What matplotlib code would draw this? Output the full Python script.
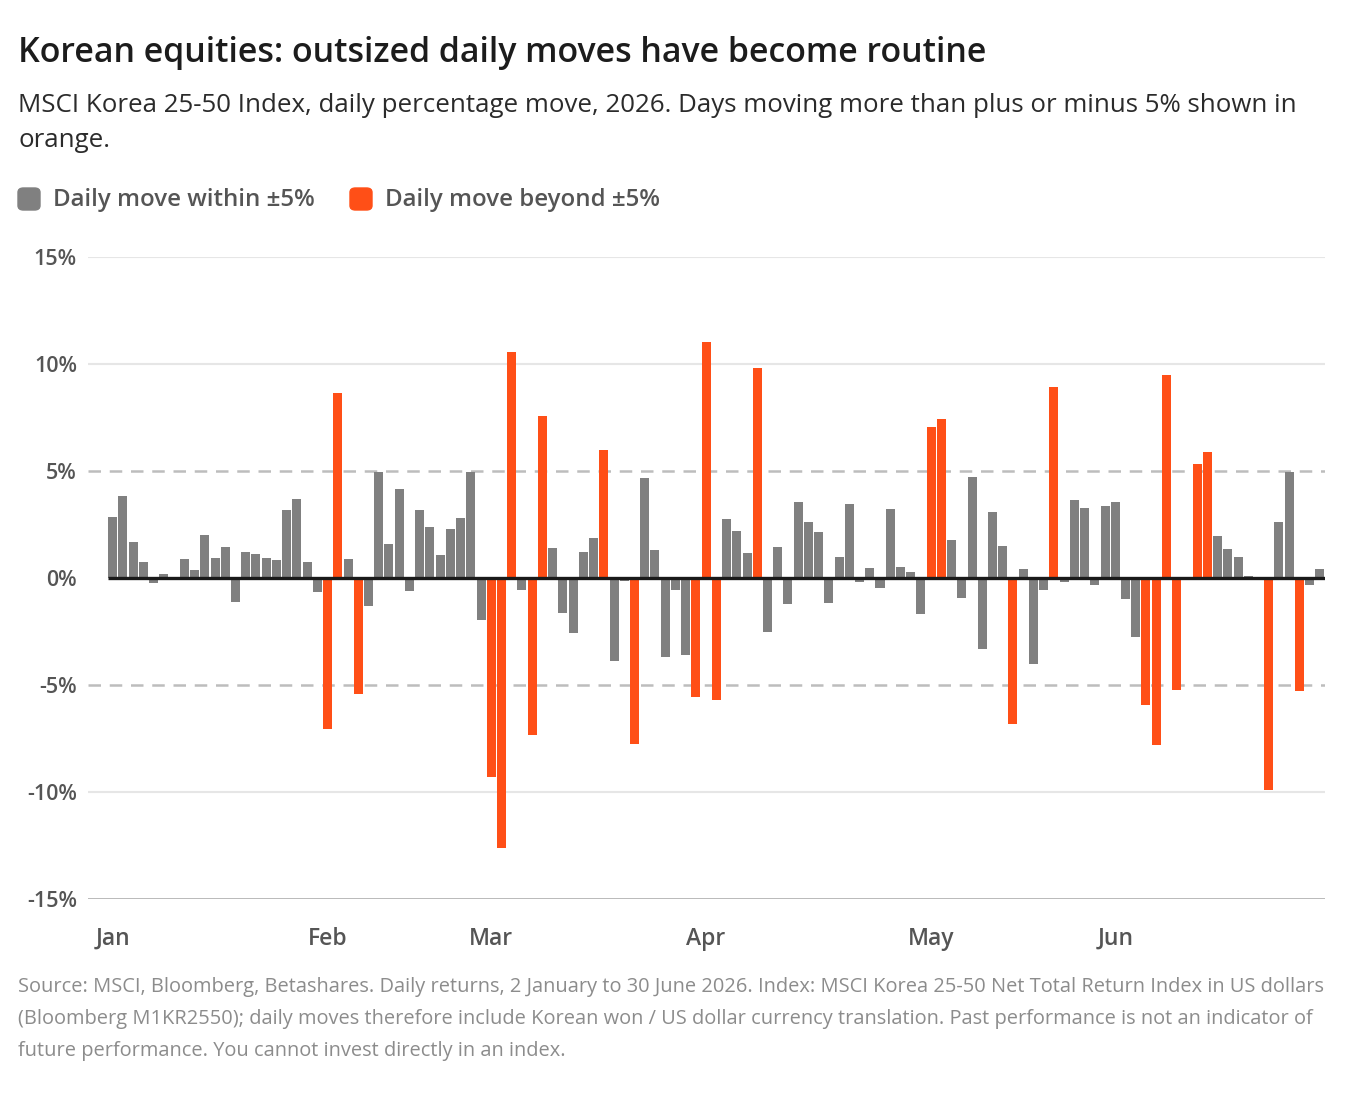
import matplotlib.pyplot as plt
import numpy as np
from matplotlib.patches import FancyBboxPatch

plt.rcParams['font.family'] = ['Open Sans', 'DejaVu Sans']

# daily % move, MSCI Korea 25-50, Jan-Jun 2026 (trading days)
daily_move = [
    2.87, 3.84, 1.66, 0.75, -0.23, 0.17, -0.05, 0.87, 0.36, 1.99,
    0.92, 1.44, -1.13, 1.20, 1.13, 0.92, 0.84, 3.18, 3.68, 0.73,
    -0.67, -7.07, 8.65, 0.90, -5.43, -1.32, 4.94, 1.61, 4.16, -0.59,
    3.20, 2.39, 1.06, 2.29, 2.81, 4.97, -1.98, -9.28, -12.60, 10.58,
    -0.55, -7.35, 7.56, 1.39, -1.63, -2.56, 1.20, 1.87, 5.98, -3.90,
    -0.16, -7.78, 4.68, 1.33, -3.68, -0.58, -3.60, -5.57, 11.02, -5.68,
    2.77, 2.21, 1.15, 9.83, -2.51, 1.46, -1.23, 3.54, 2.63, 2.13,
    -1.18, 0.97, 3.46, -0.17, 0.47, -0.48, 3.22, 0.53, 0.26, -1.70,
    7.07, 7.45, 1.78, -0.95, 4.72, -3.32, 3.08, 1.51, -6.82, 0.42,
    -4.02, -0.56, 8.94, -0.19, 3.63, 3.26, -0.34, 3.38, 3.54, -1.00,
    -2.74, -5.92, -7.80, 9.49, -5.22, 0.05, 5.33, 5.87, 1.95, 1.36,
    1.00, 0.09, 0.02, -9.90, 2.63, 4.95, -5.26, -0.34, 0.41,
]
month_labels = ['Jan', 'Feb', 'Mar', 'Apr', 'May', 'Jun']
month_starts = [0, 21, 37, 58, 80, 98]  # index of first trading day
threshold = 5
y_ticks = [-15, -10, -5, 0, 5, 10, 15]

GREY = '#808080'
ORANGE = '#FF4F17'

W, H = 1355, 1103
fig = plt.figure(figsize=(W / 100, H / 100), dpi=100)
ax = fig.add_axes([88 / W, (H - 899) / H, 1237 / W, 642 / H])

vals = np.array(daily_move)
x = np.arange(len(vals))
colors = [ORANGE if abs(v) > threshold else GREY for v in vals]
ax.bar(x, vals, width=0.88, color=colors, zorder=3)

# grid
for t in [10, 15, -10]:
    ax.axhline(t, color='#e6e6e6', lw=1.5, zorder=1)
for t in [threshold, -threshold]:
    ax.axhline(t, color='#bdbdbd', lw=1.8, ls=(0, (5, 3.5)), zorder=1)
ax.axhline(-15, color='#b3b3b3', lw=2, zorder=1)
ax.hlines(0, -0.5, len(vals) - 0.5, color='#1a1a1a', lw=2.4, zorder=4)

ax.set_xlim(-2.42, len(vals) - 0.5)
ax.set_ylim(-15, 15)
ax.set_yticks(y_ticks)
ax.set_yticklabels([f'{t}%' for t in y_ticks])
ax.set_xticks(month_starts)
ax.set_xticklabels(month_labels)
ax.tick_params(axis='y', length=0, pad=8, labelsize=15.5, labelcolor='#555555')
ax.tick_params(axis='x', length=0, pad=20, labelsize=16.5, labelcolor='#555555')
for lab in ax.get_xticklabels() + ax.get_yticklabels():
    lab.set_fontweight('semibold')
for s in ax.spines.values():
    s.set_visible(False)

# header
fig.text(18 / W, 1 - 62 / H, 'Korean equities: outsized daily moves have become routine',
         fontsize=24.4, fontweight='semibold', color='#1c1c1c', va='baseline')
fig.text(18 / W, 1 - 112 / H,
         'MSCI Korea 25-50 Index, daily percentage move, 2026. Days moving more than plus or minus 5% shown in',
         fontsize=18.6, color='#2b2b2b', va='baseline')
fig.text(18 / W, 1 - 147 / H, 'orange.', fontsize=18.6, color='#2b2b2b', va='baseline')

# legend
for lx, col, txt in [(18, GREY, 'Daily move within ±5%'), (350, ORANGE, 'Daily move beyond ±5%')]:
    fig.patches.append(FancyBboxPatch((lx / W, 1 - 210 / H), 22 / W, 22 / H,
                                      boxstyle='round,pad=0,rounding_size=0.004',
                                      transform=fig.transFigure, color=col))
    fig.text((lx + 35) / W, 1 - 200 / H, txt, fontsize=17.3, fontweight='semibold',
             color='#555555', va='center')

# footnote
notes = [
    'Source: MSCI, Bloomberg, Betashares. Daily returns, 2 January to 30 June 2026. Index: MSCI Korea 25-50 Net Total Return Index in US dollars',
    '(Bloomberg M1KR2550); daily moves therefore include Korean won / US dollar currency translation. Past performance is not an indicator of',
    'future performance. You cannot invest directly in an index.',
]
for i, line in enumerate(notes):
    fig.text(18 / W, 1 - (987 + 32 * i) / H, line, fontsize=14.4, color='#8c8c8c', va='center')

fig.savefig('out.png', dpi=100, facecolor='white')
